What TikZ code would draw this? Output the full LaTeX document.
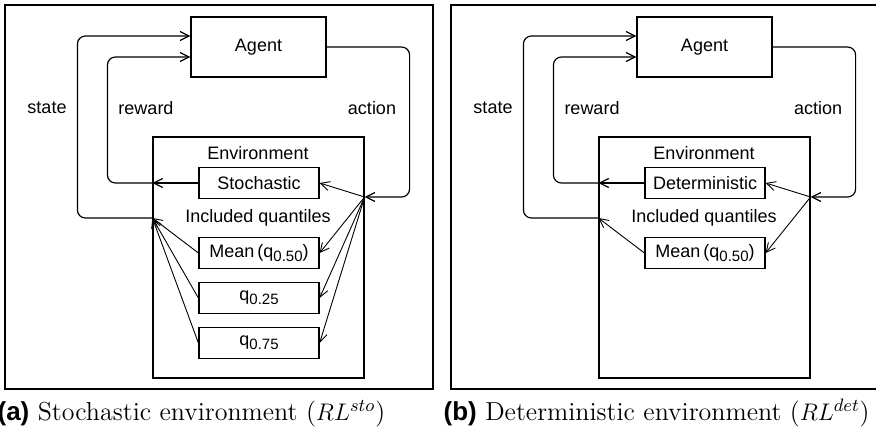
\documentclass[tikz,border=0pt]{standalone}
\usepackage{fontspec}
\setsansfont{Liberation Sans}
\usetikzlibrary{arrows.meta,calc,positioning}

\newcommand{\qsub}[1]{q\raisebox{-0.45ex}{\fontsize{7.5}{8}\selectfont #1}}

\begin{document}
\begin{tikzpicture}[x=0.5pt,y=-0.5pt,line width=0.6pt,
	>={Straight Barb[length=4.5pt,width=4.5pt]},
	box/.style={draw,minimum width=60pt,minimum height=15.5pt,inner sep=0pt,font=\sffamily\small},
	lbl/.style={font=\sffamily\small},
	caption/.style={anchor=base west,inner sep=0pt,font=\fontsize{13}{15}\selectfont},
	flow/.style={->,rounded corners=4pt}]

\useasboundingbox (0,0) rectangle (876,433);
\clip (0,0) rectangle (876,433);

% (a) stochastic
\begin{scope}
\draw (5,5) rectangle (433,389);
\node[box,minimum width=67.5pt,minimum height=30pt] (agentA) at (258.5,47) {Agent};
\node[draw,minimum width=105.5pt,minimum height=120.5pt,inner sep=0pt] (envA) at (258.5,257.5) {};
\node[lbl] (envlblA) at (258,153) {Environment};
\node[box] (stoch) at (259,183) {Stochastic};
\node[lbl] (inclA) at (258,218) {Included quantiles};
\node[box] (meanA) at (259,253) {Mean\,(\qsub{0.50})};
\node[box] (q25) at (259,298) {\qsub{0.25}};
\node[box] (q75) at (259,343) {\qsub{0.75}};

\path (envA.east) ++(0,-60.5) coordinate (actA);
\coordinate (stA) at (envA.west |- inclA);
\coordinate (rwA) at (envA.west |- stoch);

\draw[flow] (agentA.east) -- ++(83,0) |- (actA);
\foreach \q in {stoch,meanA,q25,q75}{
	\draw[->,line width=0.45pt] (actA) -- (\q.east);
}
\draw[->] (stoch.west) -- (rwA);
\draw[flow] (rwA) -- ++(-45,0) |- ($(agentA.west)+(0,10)$);
\foreach \q in {meanA,q25,q75}{
	\draw[->,line width=0.45pt] (\q.west) -- (stA);
}
\draw[flow] (stA) -- ++(-75,0) |- ($(agentA.west)+(0,-11)$);

\node[lbl] (stateA) at (47,108) {state};
\node[lbl] (rewardA) at (146,108) {reward};
\node[lbl] (actionA) at (372,108) {action};

\node[caption] (capA) at (-3,420)
	{{\sffamily\bfseries(a)} Stochastic environment ($RL^{sto}$)};
\end{scope}

% (b) deterministic, frame runs past the right edge
\begin{scope}[shift={(446,0)}]
\draw (440,5) -| (5,389) -- (440,389);
\node[box,minimum width=67.5pt,minimum height=30pt] (agentB) at (258.5,47) {Agent};
\node[draw,minimum width=105.5pt,minimum height=120.5pt,inner sep=0pt] (envB) at (258.5,257.5) {};
\node[lbl] (envlblB) at (258,153) {Environment};
\node[box] (determ) at (259,183) {Deterministic};
\node[lbl] (inclB) at (258,218) {Included quantiles};
\node[box] (meanB) at (259,253) {Mean\,(\qsub{0.50})};

\path (envB.east) ++(0,-60.5) coordinate (actB);
\coordinate (stB) at (envB.west |- inclB);
\coordinate (rwB) at (envB.west |- determ);

\draw[flow] (agentB.east) -- ++(83,0) |- (actB);
\foreach \q in {determ,meanB}{
	\draw[->,line width=0.45pt] (actB) -- (\q.east);
}
\draw[->] (determ.west) -- (rwB);
\draw[flow] (rwB) -- ++(-45,0) |- ($(agentB.west)+(0,10)$);
\draw[->,line width=0.45pt] (meanB.west) -- (stB);
\draw[flow] (stB) -- ++(-75,0) |- ($(agentB.west)+(0,-11)$);

\node[lbl] (stateB) at (47,108) {state};
\node[lbl] (rewardB) at (146,108) {reward};
\node[lbl] (actionB) at (372,108) {action};

\node[caption] (capB) at (-3,420)
	{{\sffamily\bfseries(b)} Deterministic environment ($RL^{det}$)};
\end{scope}

\end{tikzpicture}
\end{document}
